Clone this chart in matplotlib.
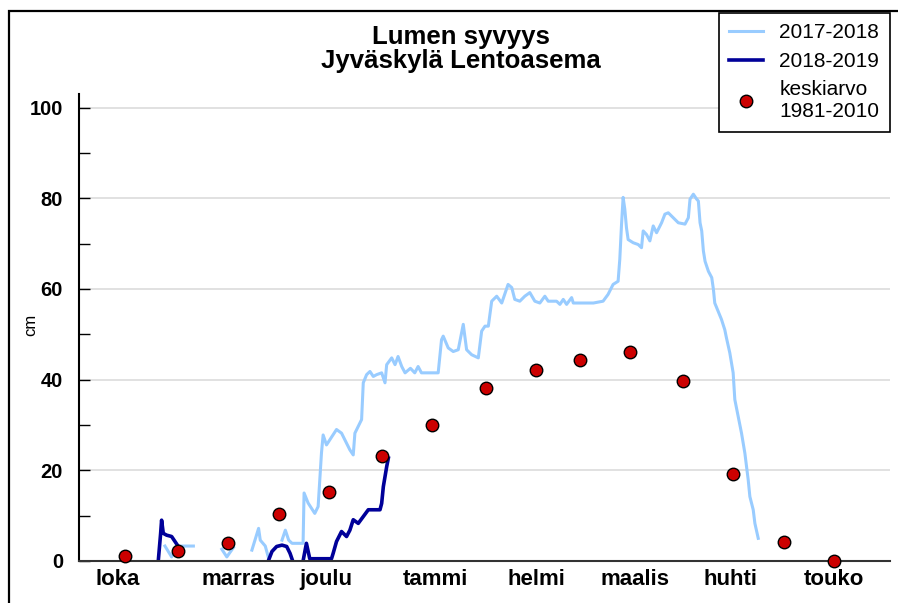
import numpy as np
import matplotlib.pyplot as plt
from matplotlib.patches import Rectangle

nan = np.nan

# x values are days counted from 1 October
months = ["loka", "marras", "joulu", "tammi", "helmi", "maalis", "huhti", "touko"]
month_pos = [13, 49, 75, 108, 138, 167.5, 196, 227]

# long-term mean 1981-2010 (1st and 16th of each month)
avg_days = [15, 31, 46, 61, 76, 92, 107, 123, 138, 151, 166, 182, 197, 212, 227]
avg_cm = [1.0, 2.2, 4.0, 10.3, 15.2, 23.2, 30.1, 38.2, 42.2, 44.4, 46.1, 39.8, 19.2, 4.1, 0.0]

# winter 2017-2018 (gaps = no snow recorded)
days_1718 = [27, 29, 30.5, 35.5, nan,
             44, 45.5, 47.5, nan,
             53, 55, 55.5, 57, 58, nan,
             62, 63, 64, 65, 68.3, 68.6, 69.8, 71.8, 72.8, 73.8, 74.3, 75.3, 78.3,
             79.8, 80.8, 82.3, 83.3, 83.8, 84.8, 85.8, 86.3, 87.3, 88.3, 89.3, 90.3,
             91.8, 92.8, 93.3, 94.8, 95.8, 96.7, 97.8, 98.8, 100.4, 101.7, 102.7,
             103.7, 108.7, 109.7, 110.2, 111.7, 113.2, 114.7, 116.2, 117.2, 118.7,
             120.7, 121.7, 122.7, 123.7, 124.7, 126.2, 127.7, 129.6, 130.7, 131.6,
             133.1, 134.6, 136.1, 137.6, 139.1, 140.6, 141.6, 144.1, 145.1, 146.1,
             147.1, 148.6, 149.1, 155.1, 158.0, 159.5, 161.0, 162.5, 163.0, 163.5,
             164.0, 164.5, 165.0, 165.5, 167.0, 168.5, 169.5, 170.0, 171.0, 172.0,
             173.0, 174.0, 175.5, 176.5, 177.5, 179.0, 180.5, 182.5, 183.5, 184.0,
             185.0, 186.0, 186.5, 187.0, 187.5, 188.0, 188.5, 189.5, 190.5, 191.0,
             191.4, 192.4, 193.4, 194.4, 194.9, 195.9, 196.9, 197.4, 198.4, 199.4,
             200.4, 200.9, 201.4, 201.9, 202.9, 203.4, 204.4]
cm_1718 = [3.3, 0.9, 3.3, 3.3, nan,
           2.6, 0.9, 3.0, nan,
           2.4, 7.2, 4.6, 3.3, 0.6, nan,
           4.6, 6.8, 4.6, 3.9, 3.9, 15.0, 12.8, 10.5, 12.0, 23.8, 27.8, 25.6, 29.0,
           28.2, 26.7, 24.5, 23.4, 28.2, 29.7, 31.2, 39.3, 41.1, 41.8, 40.7, 41.1,
           41.5, 39.3, 43.3, 44.8, 43.3, 45.1, 42.9, 41.5, 42.5, 41.5, 42.9,
           41.5, 41.5, 48.8, 49.6, 47.0, 46.2, 46.6, 52.2, 46.6, 45.5,
           44.8, 50.7, 51.8, 51.8, 57.3, 58.4, 56.9, 61.0, 60.3, 57.7,
           57.3, 58.4, 59.2, 57.3, 56.9, 58.4, 57.3, 57.3, 56.6, 57.7,
           56.6, 58.1, 56.9, 56.9, 57.3, 58.8, 61.0, 61.7, 66.5, 73.9,
           80.2, 77.6, 73.5, 70.9, 70.2, 69.8, 69.1, 72.8, 72.0, 70.6,
           73.9, 72.4, 74.6, 76.5, 76.8, 75.7, 74.6, 74.3, 75.7, 79.8,
           80.9, 79.8, 79.4, 74.6, 72.8, 68.4, 66.1, 63.9, 62.5, 59.9,
           56.9, 55.1, 53.3, 51.0, 49.2, 45.9, 41.5, 35.6, 31.9, 28.2,
           23.8, 20.8, 17.9, 14.2, 11.3, 8.3, 5.0]

# winter 2018-2019
days_1819 = [25, 25.7, 26.0, 26.5, 27.5, 29.0, 30.0, 31.0, 32.0, nan,
             58, 59, 60.4, 62, 63.4, 64.4, 65.2, nan,
             68.3, 69.3, 70.3, 76.8, 77.3, 78.3, 79.8, 81.3, 82.3, 83.3, 84.8,
             86.3, 87.8, 91.3, 91.8, 92.3, 93.3, 93.8]
cm_1819 = [0, 6.0, 9.0, 6.1, 5.7, 5.4, 4.3, 3.2, 1.5, nan,
           0.2, 2.1, 3.2, 3.5, 3.2, 1.7, 0, nan,
           0, 3.9, 0.5, 0.5, 1.7, 4.3, 6.5, 5.4, 6.8, 9.1, 8.3,
           9.8, 11.3, 11.3, 12.7, 16.4, 20.8, 22.7]

plt.rcParams["font.family"] = ["Liberation Sans", "DejaVu Sans"]

fig = plt.figure(figsize=(8.98, 6.03), dpi=100)
ax = fig.add_axes([79 / 898, 42 / 603, 811 / 898, 467 / 603])

ax.plot(days_1718, cm_1718, color="#99ccff", lw=2.2, label="2017-2018")
ax.plot(days_1819, cm_1819, color="#000099", lw=2.6, label="2018-2019")
ax.plot(avg_days, avg_cm, "o", ms=9, mfc="#cc0000", mec="black", mew=1,
        label="keskiarvo\n1981-2010", zorder=5, clip_on=False)

ax.set_xlim(1.3, 243.8)
ax.set_ylim(0, 103)

ax.set_yticks(range(0, 101, 20))
ax.set_yticks(range(10, 100, 20), minor=True)
ax.tick_params(axis="y", which="both", direction="in", length=8, width=1,
               color="black", pad=11.5, labelsize=14.5)
for lbl in ax.get_yticklabels():
    lbl.set_fontweight("bold")
ax.set_xticks(month_pos, months, fontweight="bold", fontsize=16)
ax.tick_params(axis="x", length=0, pad=6)

ax.grid(axis="y", color="#d9d9d9", lw=1.1)
ax.set_axisbelow(True)
for s in ["top", "right"]:
    ax.spines[s].set_visible(False)
ax.spines["left"].set_linewidth(1.5)
ax.spines["bottom"].set_linewidth(1.5)
ax.spines["bottom"].set_color("#333333")

fig.text(461 / 898, 1 - 49 / 603, "Lumen syvyys\nJyväskylä Lentoasema",
         ha="center", va="center", fontsize=18.5, fontweight="bold", linespacing=1.05)
fig.text(31 / 898, 1 - 325 / 603, "cm", rotation=90, ha="center", va="center", fontsize=12)

leg = fig.legend(loc="upper left", bbox_to_anchor=(719 / 898, 1 - 13 / 603),
                 frameon=True, fancybox=False, edgecolor="black", fontsize=15,
                 handlelength=1.6, handletextpad=0.8, borderpad=0.5,
                 labelspacing=0.45, borderaxespad=0, framealpha=1)
leg.get_frame().set_linewidth(1.2)
for t in leg.get_texts():
    t.set_multialignment("left")

# outer frame of the picture
fig.add_artist(Rectangle((9 / 898, -0.05), 1.0, 1.05 - 10.5 / 603, transform=fig.transFigure,
                         fill=False, edgecolor="black", lw=1.6))

fig.savefig("out.png", dpi=100)
